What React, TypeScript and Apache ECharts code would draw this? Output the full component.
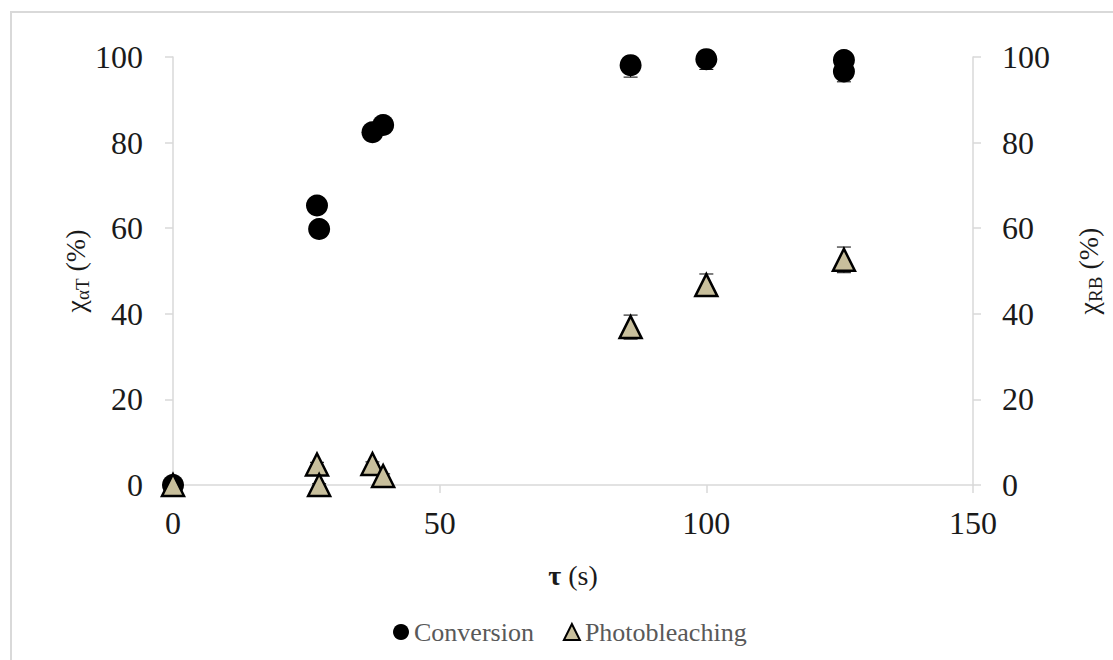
import React, { useEffect, useRef } from "react";
import * as echarts from "echarts";

// Data
const conversionX = [0, 27.0, 27.4, 37.4, 39.4, 85.8, 100, 125.8, 125.8];
const conversionY = [0, 65.3, 59.8, 82.4, 84.1, 98.1, 99.5, 99.3, 96.6];
const conversionErr = [0.5, 1.0, 1.0, 1.5, 1.5, 2.8, 2.4, 1.5, 2.4];

const photoX = [0, 27.0, 27.4, 37.4, 39.4, 85.8, 100, 125.8];
const photoY = [0, 4.8, 0, 4.9, 2.1, 36.9, 46.7, 52.6];
const photoErr = [0.3, 0.5, 0.3, 0.5, 0.5, 2.8, 2.6, 3.0];

const xTicks = [0, 50, 100, 150];
const yTicks = [0, 20, 40, 60, 80, 100];

const FONT = "Liberation Serif";

function errorBarSeries(xs: number[], ys: number[], es: number[], yAxisIndex: number) {
  return {
    type: "custom",
    yAxisIndex,
    clip: true,
    z: 1,
    silent: true,
    encode: { x: 0, y: 1 },
    data: xs.map((x, i) => [x, ys[i], es[i]]),
    renderItem: (params: any, api: any) => {
      const x = api.value(0);
      const y = api.value(1);
      const e = api.value(2);
      const top = api.coord([x, y + e]);
      const bot = api.coord([x, y - e]);
      const hw = 7;
      const st = { stroke: "#000", lineWidth: 1 };
      return {
        type: "group",
        children: [
          { type: "line", shape: { x1: top[0], y1: top[1], x2: bot[0], y2: bot[1] }, style: st },
          { type: "line", shape: { x1: top[0] - hw, y1: top[1], x2: top[0] + hw, y2: top[1] }, style: st },
          { type: "line", shape: { x1: bot[0] - hw, y1: bot[1], x2: bot[0] + hw, y2: bot[1] }, style: st },
        ],
      };
    },
  };
}

export default function App() {
  const ref = useRef<HTMLDivElement>(null);

  useEffect(() => {
    if (!ref.current) return;
    const chart = echarts.init(ref.current, null, { renderer: "svg" });
    const axisLine = { show: true, lineStyle: { color: "#d9d9d9", width: 1.5 } };
    const axisTick = { show: true, length: 8, inside: false, lineStyle: { color: "#d9d9d9", width: 1.5 } };
    const labelStyle = { fontFamily: FONT, fontSize: 32, color: "#1a1a1a" };
    const yName = (sub: string) => `{g|χ}{s|${sub}}{g| (%)}`;
    const nameRich = {
      g: { fontFamily: FONT, fontSize: 28, color: "#1a1a1a", lineHeight: 34, verticalAlign: "middle" },
      s: { fontFamily: FONT, fontSize: 19, color: "#1a1a1a", lineHeight: 16, verticalAlign: "bottom" },
    };

    chart.setOption({
      animation: false,
      backgroundColor: "#ffffff",
      textStyle: { fontFamily: FONT },
      graphic: [
        {
          type: "rect",
          shape: { x: 11, y: 12, width: 1130, height: 700 },
          style: { fill: "none", stroke: "#d9d9d9", lineWidth: 2 },
          silent: true,
        },
      ],
      grid: { left: 173, right: 138, top: 57, bottom: 175, containLabel: false },
      legend: {
        left: 388,
        top: 614,
        itemGap: 29,
        itemWidth: 16,
        itemHeight: 16,
        textStyle: { fontFamily: FONT, fontSize: 26, color: "#595959" },
        data: ["Conversion", "Photobleaching"],
      },
      xAxis: {
        type: "value",
        min: xTicks[0],
        max: xTicks[xTicks.length - 1],
        interval: 50,
        splitLine: { show: false },
        axisLine,
        axisTick,
        axisLabel: { ...labelStyle, margin: 22 },
        name: "{b|τ}{n| (s)}",
        nameLocation: "middle",
        nameGap: 76,
        nameMoveOverlap: false,
        nameTextStyle: {
          fontFamily: FONT,
          rich: {
            b: { fontFamily: FONT, fontSize: 28, fontWeight: "bold", color: "#1a1a1a" },
            n: { fontFamily: FONT, fontSize: 28, color: "#1a1a1a" },
          },
        },
      },
      yAxis: [
        {
          type: "value",
          position: "left",
          min: yTicks[0],
          max: yTicks[yTicks.length - 1],
          interval: 20,
          splitLine: { show: false },
          axisLine,
          axisTick,
          axisLabel: { ...labelStyle, margin: 30 },
          name: yName("αT"),
          nameLocation: "middle",
          nameRotate: 90,
          nameGap: 81,
          nameMoveOverlap: false,
          nameTextStyle: { fontFamily: FONT, rich: nameRich },
        },
        {
          type: "value",
          position: "right",
          min: yTicks[0],
          max: yTicks[yTicks.length - 1],
          interval: 20,
          splitLine: { show: false },
          axisLine,
          axisTick,
          axisLabel: { ...labelStyle, margin: 29 },
          name: yName("RB"),
          nameLocation: "middle",
          nameRotate: 90,
          nameGap: 98,
          nameMoveOverlap: false,
          nameTextStyle: { fontFamily: FONT, rich: nameRich },
        },
      ],
      series: [
        errorBarSeries(conversionX, conversionY, conversionErr, 0),
        {
          name: "Conversion",
          type: "scatter",
          yAxisIndex: 0,
          symbol: "circle",
          symbolSize: 22,
          z: 2,
          itemStyle: { color: "#000000", opacity: 1 },
          data: conversionX.map((x, i) => [x, conversionY[i]]),
        },
        errorBarSeries(photoX, photoY, photoErr, 1),
        {
          name: "Photobleaching",
          type: "scatter",
          yAxisIndex: 1,
          symbol: "triangle",
          symbolSize: 22,
          z: 3,
          itemStyle: { color: "#c8bf9c", borderColor: "#000000", borderWidth: 2.5, opacity: 1 },
          data: photoX.map((x, i) => [x, photoY[i]]),
        },
      ],
    });
    return () => chart.dispose();
  }, []);

  return (
    <div
      ref={ref}
      style={{ position: "fixed", left: 0, top: 0, width: 1113, height: 660, background: "#fff" }}
    />
  );
}
